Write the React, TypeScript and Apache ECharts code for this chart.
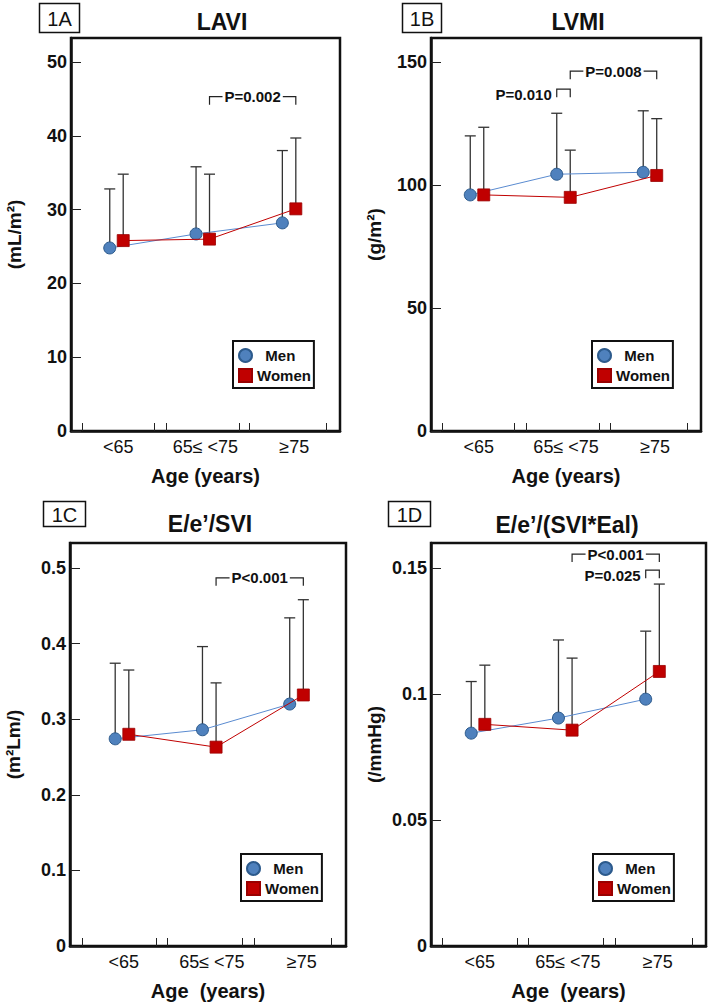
import React, { useEffect, useRef } from "react";
import * as echarts from "echarts";

// ---------- data ----------
const ageGroups = ["<65", "65\u2264 <75", "\u226575"];
const seriesNames = ["Men", "Women"];

const laviMen = [24.8, 26.7, 28.2];
const laviMenUpper = [32.8, 35.8, 38.0];
const laviWomen = [25.8, 26.0, 30.1];
const laviWomenUpper = [34.8, 34.8, 39.7];
const laviTicks = [0, 10, 20, 30, 40, 50];

const lvmiMen = [96.0, 104.4, 105.2];
const lvmiMenUpper = [120.0, 129.2, 130.2];
const lvmiWomen = [96.0, 95.0, 103.9];
const lvmiWomenUpper = [123.5, 114.2, 127.0];
const lvmiTicks = [0, 50, 100, 150];

const esviMen = [0.274, 0.286, 0.32];
const esviMenUpper = [0.374, 0.396, 0.434];
const esviWomen = [0.28, 0.263, 0.332];
const esviWomenUpper = [0.365, 0.348, 0.458];
const esviTicks = [0, 0.1, 0.2, 0.3, 0.4, 0.5];

const eaiMen = [0.0845, 0.0905, 0.098];
const eaiMenUpper = [0.105, 0.1215, 0.125];
const eaiWomen = [0.088, 0.0857, 0.109];
const eaiWomenUpper = [0.1115, 0.1143, 0.1437];
const eaiTicks = [0, 0.05, 0.1, 0.15];

// p-value brackets: between (group, sex) points, at level y
const laviP = [{ from: [1, 1], to: [2, 1], y: 45.3, text: "P=0.002", side: "center" }];
const lvmiP = [
  { from: [1, 0], to: [1, 1], y: 139, text: "P=0.010", side: "left" },
  { from: [1, 1], to: [2, 1], y: 146.3, text: "P=0.008", side: "center" },
];
const esviP = [{ from: [1, 1], to: [2, 1], y: 0.487, text: "P<0.001", side: "center" }];
const eaiP = [
  { from: [1, 1], to: [2, 1], y: 0.1556, text: "P<0.001", side: "center" },
  { from: [2, 0], to: [2, 1], y: 0.1492, text: "P=0.025", side: "left" },
];

// ---------- layout ----------
const FONT = "'Liberation Sans', Arial, Helvetica, sans-serif";
const SEX_OFF = [-0.078, 0.078];
const MEN_COLOR = "#4f81bd";
const WOMEN_COLOR = "#c00000";

const panels = [
  {
    label: "1A", labelBox: [39, 3, 40, 29], title: "LAVI", titlePos: [222, 22],
    grid: { left: 71, top: 38, width: 269, height: 393 },
    xMin: 0.473, xMax: 3.59, yMax: 53.25, yTicks: laviTicks,
    xTicks: [0.6, 1.435, 1.574, 2.419, 2.535, 3.427],
    yName: "(mL/m\u00b2)", xName: "Age (years)",
    men: laviMen, menUp: laviMenUpper, women: laviWomen, womenUp: laviWomenUpper, p: laviP,
    legend: [233, 341],
  },
  {
    label: "1B", labelBox: [402, 3, 39, 29], title: "LVMI", titlePos: [578, 22],
    grid: { left: 431, top: 38, width: 270, height: 393 },
    xMin: 0.468, xMax: 3.59, yMax: 159.8, yTicks: lvmiTicks,
    xTicks: [0.6, 1.435, 1.574, 2.419, 2.535, 3.427],
    yName: "(g/m\u00b2)", xName: "Age (years)",
    men: lvmiMen, menUp: lvmiMenUpper, women: lvmiWomen, womenUp: lvmiWomenUpper, p: lvmiP,
    legend: [592, 341],
  },
  {
    label: "1C", labelBox: [43, 501, 42, 25], title: "E/e\u2019/SVI", titlePos: [210, 524],
    grid: { left: 70, top: 543, width: 276, height: 403 },
    xMin: 0.404, xMax: 3.567, yMax: 0.533, yTicks: esviTicks,
    xTicks: [0.542, 1.39, 1.516, 2.375, 2.513, 3.395],
    yName: "(m\u00b2Lm/)", xName: "Age  (years)",
    men: esviMen, menUp: esviMenUpper, women: esviWomen, womenUp: esviWomenUpper, p: esviP,
    legend: [241, 854],
  },
  {
    label: "1D", labelBox: [388, 501, 42, 25], title: "E/e\u2019/(SVI*Eal)", titlePos: [567, 525],
    grid: { left: 431, top: 543, width: 275, height: 403 },
    xMin: 0.461, xMax: 3.613, yMax: 0.16, yTicks: eaiTicks,
    xTicks: [0.587, 1.447, 1.573, 2.433, 2.57, 3.453],
    yName: "(/mmHg)", xName: "Age  (years)",
    men: eaiMen, menUp: eaiMenUpper, women: eaiWomen, womenUp: eaiWomenUpper, p: eaiP,
    legend: [593, 854],
  },
];

const xPos = (g: number, sex: number) => g + 1 + SEX_OFF[sex];

function buildOption() {
  const grid: any[] = [];
  const xAxis: any[] = [];
  const yAxis: any[] = [];
  const series: any[] = [];
  const legend: any[] = [];
  const graphic: any[] = [];

  panels.forEach((p, i) => {
    grid.push({ ...p.grid, show: true, borderColor: "#111", borderWidth: 2.5, backgroundColor: "transparent" });
    xAxis.push({
      type: "value", gridIndex: i, min: p.xMin, max: p.xMax,
      name: p.xName, nameLocation: "middle", nameGap: 35,
      nameTextStyle: { fontFamily: FONT, fontSize: 20, fontWeight: "bold", color: "#111" },
      axisLine: { show: true, lineStyle: { color: "#111", width: 2.5 } },
      axisTick: { show: true, inside: true, length: 8, customValues: p.xTicks, lineStyle: { color: "#222", width: 1 } },
      axisLabel: {
        customValues: [1.02, 2.03, 3.06], margin: 7,
        formatter: (v: number) => ageGroups[Math.round(v) - 1] ?? "",
        fontFamily: FONT, fontSize: 18, color: "#111",
      },
      splitLine: { show: false },
    });
    yAxis.push({
      type: "value", gridIndex: i, min: 0, max: p.yMax,
      name: p.yName, nameLocation: "middle", nameGap: 47, nameRotate: 90,
      nameTextStyle: { fontFamily: FONT, fontSize: 19, fontWeight: "bold", color: "#111" },
      axisLine: { show: true, lineStyle: { color: "#111", width: 2.5 } },
      axisTick: { show: true, inside: true, length: 10, customValues: p.yTicks, lineStyle: { color: "#222", width: 1 } },
      axisLabel: {
        customValues: p.yTicks, margin: 4,
        fontFamily: FONT, fontSize: 18, fontWeight: "bold", color: "#111",
      },
      splitLine: { show: false },
    });

    const errData: number[][] = [];
    p.men.forEach((v, g) => errData.push([xPos(g, 0), v, p.menUp[g]]));
    p.women.forEach((v, g) => errData.push([xPos(g, 1), v, p.womenUp[g]]));
    series.push({
      type: "custom", name: "err" + i, xAxisIndex: i, yAxisIndex: i, z: 1, silent: true,
      encode: { x: 0, y: [1, 2] },
      data: errData,
      renderItem: (params: any, api: any) => {
        const a = api.coord([api.value(0), api.value(1)]);
        const b = api.coord([api.value(0), api.value(2)]);
        const st = { stroke: "#333", lineWidth: 1.3 };
        return {
          type: "group",
          children: [
            { type: "line", shape: { x1: a[0], y1: a[1], x2: b[0], y2: b[1] }, style: st },
            { type: "line", shape: { x1: b[0] - 5.5, y1: b[1], x2: b[0] + 5.5, y2: b[1] }, style: st },
          ],
        };
      },
    });

    series.push({
      type: "line", name: "Men", xAxisIndex: i, yAxisIndex: i, z: 3,
      data: p.men.map((v, g) => [xPos(g, 0), v]),
      symbol: "circle", symbolSize: 12,
      lineStyle: { color: "#5a8bd0", width: 1 },
      itemStyle: { color: MEN_COLOR, borderColor: "#2c5a8c", borderWidth: 1 },
    });
    series.push({
      type: "line", name: "Women", xAxisIndex: i, yAxisIndex: i, z: 4,
      data: p.women.map((v, g) => [xPos(g, 1), v]),
      symbol: "rect", symbolSize: 12,
      lineStyle: { color: WOMEN_COLOR, width: 1 },
      itemStyle: { color: WOMEN_COLOR, borderColor: "#9a0000", borderWidth: 0.8 },
    });

    const br = p.p;
    series.push({
      type: "custom", name: "p" + i, xAxisIndex: i, yAxisIndex: i, z: 5, silent: true,
      encode: { x: [0, 1], y: 2 },
      data: br.map((b) => [xPos(b.from[0], b.from[1]), xPos(b.to[0], b.to[1]), b.y]),
      renderItem: (params: any, api: any) => {
        const b = br[params.dataIndex];
        const a = api.coord([api.value(0), api.value(2)]);
        const c = api.coord([api.value(1), api.value(2)]);
        const drop = 8;
        const children: any[] = [
          {
            type: "polyline",
            shape: { points: [[a[0], a[1] + drop], [a[0], a[1]], [c[0], c[1]], [c[0], c[1] + drop]] },
            style: { stroke: "#222", fill: "none", lineWidth: 1.2 },
          },
        ];
        const ts = { fontFamily: FONT, fontSize: 15, fontWeight: "bold", fill: "#111" };
        if (b.side === "center") {
          children.push({
            type: "text", x: (a[0] + c[0]) / 2, y: a[1],
            style: { ...ts, text: b.text, align: "center", verticalAlign: "middle", backgroundColor: "#fff", padding: [0, 2] },
          });
        } else {
          children.push({
            type: "text", x: a[0] - 5, y: a[1] + 5,
            style: { ...ts, text: b.text, align: "right", verticalAlign: "middle" },
          });
        }
        return { type: "group", children };
      },
    });

    legend.push({
      left: p.legend[0], top: p.legend[1], orient: "vertical",
      data: [{ name: "Men", icon: "circle" }, { name: "Women", icon: "rect" }],
      itemWidth: 13, itemHeight: 13, itemGap: 5, itemTextGap: 2,
      padding: [7, 3, 5, 5], borderColor: "#111", borderWidth: 2, backgroundColor: "#fff",
      selectedMode: false,
      formatter: (n: string) => (n === "Men" ? "  Men" : n),
      textStyle: { fontFamily: FONT, fontSize: 15, fontWeight: "bold", color: "#111" },
    });

    graphic.push({
      type: "rect", shape: { x: p.labelBox[0] + 0.5, y: p.labelBox[1] + 0.5, width: p.labelBox[2], height: p.labelBox[3] },
      style: { fill: "#fff", stroke: "#111", lineWidth: 1.5 },
    });
    graphic.push({
      type: "text", x: p.labelBox[0] + p.labelBox[2] / 2 + 0.5, y: p.labelBox[1] + p.labelBox[3] / 2 + 1,
      style: { text: p.label, align: "center", verticalAlign: "middle", fontFamily: FONT, fontSize: 20, fill: "#111" },
    });
    graphic.push({
      type: "text", x: p.titlePos[0], y: p.titlePos[1],
      style: { text: p.title, align: "center", verticalAlign: "middle", fontFamily: FONT, fontSize: 23, fontWeight: "bold", fill: "#111" },
    });
  });

  return {
    animation: false,
    backgroundColor: "#fff",
    textStyle: { fontFamily: FONT },
    grid, xAxis, yAxis, series, legend, graphic,
  };
}

export default function App() {
  const ref = useRef<HTMLDivElement>(null);
  useEffect(() => {
    if (!ref.current) return;
    const chart = echarts.init(ref.current, undefined, { renderer: "svg" });
    chart.setOption(buildOption() as any);
    return () => chart.dispose();
  }, []);
  return (
    <div
      ref={ref}
      style={{ position: "fixed", left: 0, top: 0, width: 709, height: 1002, background: "#fff" }}
    />
  );
}
